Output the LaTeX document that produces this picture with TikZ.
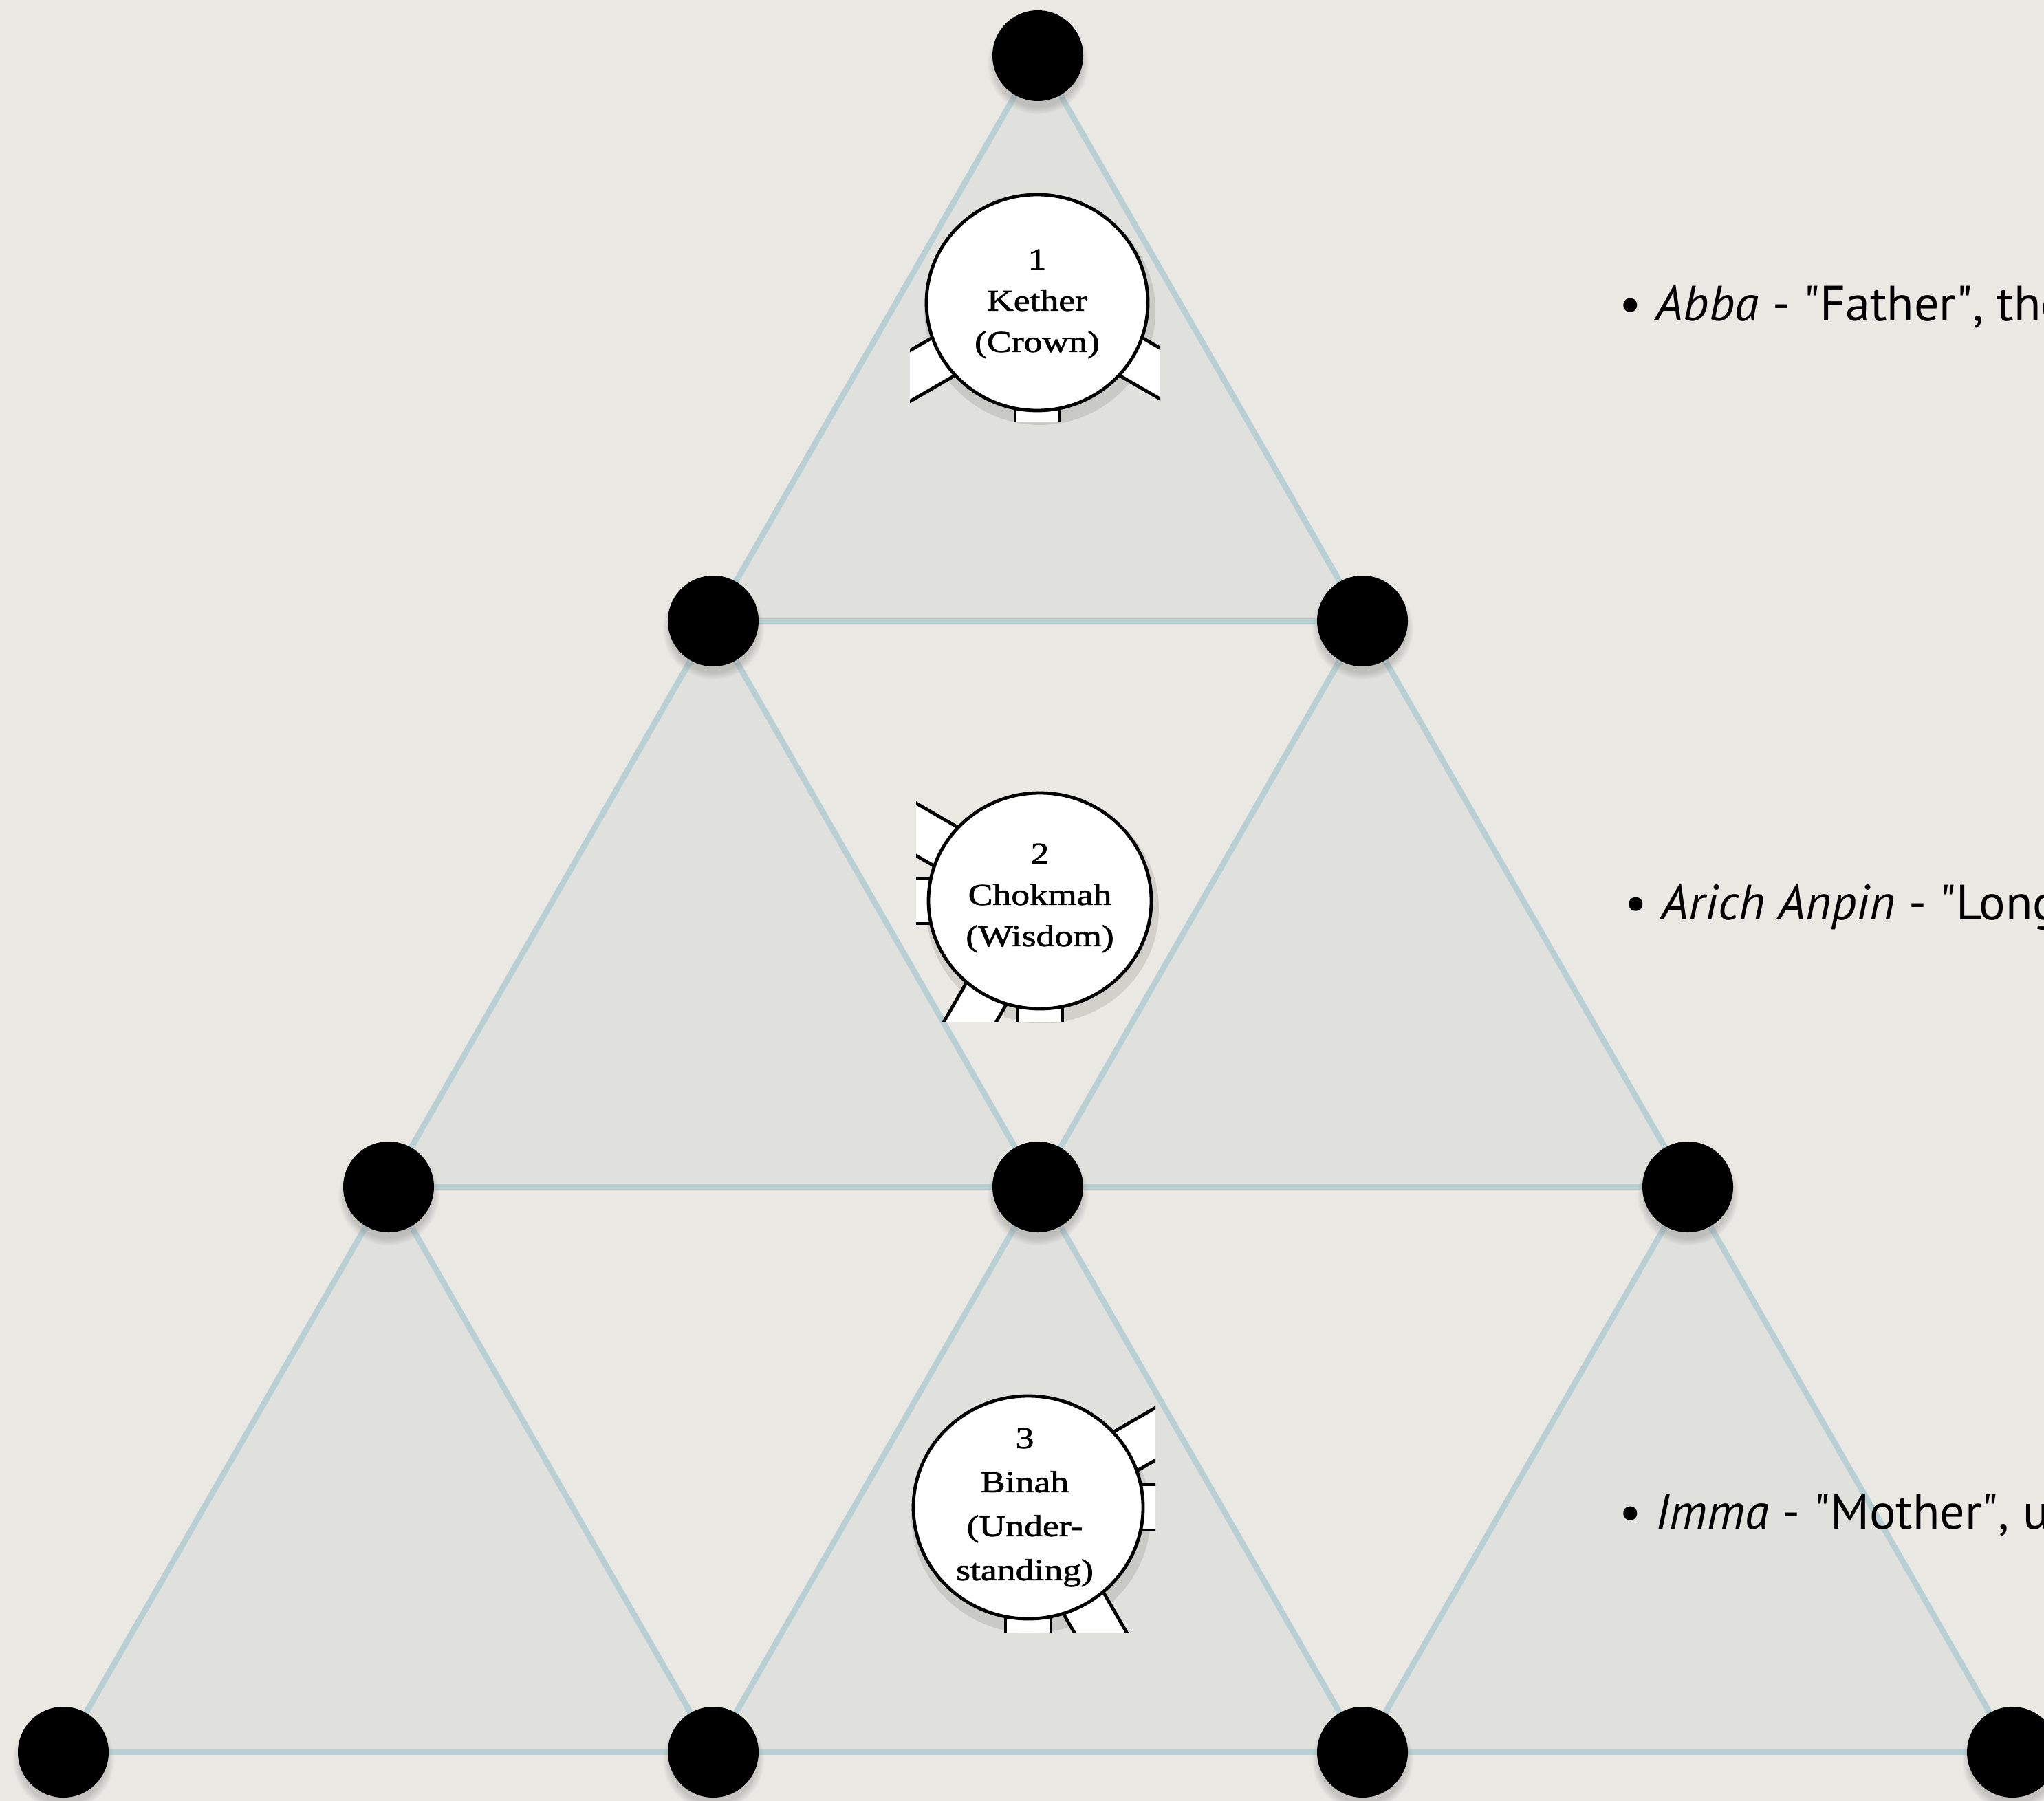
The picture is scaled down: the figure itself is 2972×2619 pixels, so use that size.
\documentclass[tikz,border=0pt]{standalone}
\usepackage{fontspec}
\setmainfont{PT Sans}
\newfontfamily\sefont[FakeStretch=1.22,FakeBold=1.6]{Liberation Serif}
\font\sqfont="PT Sans" at 18pt
\newcommand{\sq}{{\sqfont\char34}}
\usetikzlibrary{shadows,fadings}
\definecolor{bgcol}{RGB}{233,232,227}
\definecolor{trifill}{RGB}{224,224,220}
\definecolor{linecol}{RGB}{184,208,211}
\begin{document}
\begin{tikzpicture}[x=0.25pt,y=-0.25pt,
  dot/.style={circle,fill=black,minimum size=33pt,inner sep=0pt,
    circular drop shadow={shadow xshift=0pt,shadow yshift=-2.5pt,opacity=0.35,shadow scale=1.12}},
  edge/.style={draw=linecol,line width=2.1pt},
  uptri/.style={fill=trifill},
  stub/.style={fill=white,draw=black,line width=1.2pt},
  sef/.style={fill=white,draw=black,line width=1.2pt},
  seftext/.style={font=\sefont\fontsize{11pt}{15pt}\selectfont,align=center,inner sep=0pt},
  btext/.style={anchor=base west,inner sep=0pt,font=\fontsize{18pt}{21pt}\selectfont},
  bdot/.style={anchor=base,inner sep=0pt,font=\fontsize{18pt}{21pt}\selectfont}]
\useasboundingbox (0,0) rectangle (2972,2619);
\clip (0,0) rectangle (2972,2619);
\fill[bgcol] (0,0) rectangle (2972,2619);

% lattice points
\coordinate (t)  at (1509,81);
\coordinate (a1) at (1037,903);
\coordinate (a2) at (1981,903);
\coordinate (b1) at (565,1726);
\coordinate (b2) at (1509,1726);
\coordinate (b3) at (2454,1726);
\coordinate (c1) at (92,2548);
\coordinate (c2) at (1037,2548);
\coordinate (c3) at (1981,2548);
\coordinate (c4) at (2926,2548);

% shaded upward triangles
\fill[uptri] (t) -- (a1) -- (a2) -- cycle;
\fill[uptri] (a1) -- (b1) -- (b2) -- cycle;
\fill[uptri] (a2) -- (b2) -- (b3) -- cycle;
\fill[uptri] (b1) -- (c1) -- (c2) -- cycle;
\fill[uptri] (b2) -- (c2) -- (c3) -- cycle;
\fill[uptri] (b3) -- (c3) -- (c4) -- cycle;

% connectors
\draw[edge] (t) -- (a1);
\draw[edge] (t) -- (a2);
\draw[edge] (a1) -- (a2);
\draw[edge] (a1) -- (b1);
\draw[edge] (a1) -- (b2);
\draw[edge] (a2) -- (b2);
\draw[edge] (a2) -- (b3);
\draw[edge] (b1) -- (b2);
\draw[edge] (b2) -- (b3);
\draw[edge] (b1) -- (c1);
\draw[edge] (b1) -- (c2);
\draw[edge] (b2) -- (c2);
\draw[edge] (b2) -- (c3);
\draw[edge] (b3) -- (c3);
\draw[edge] (b3) -- (c4);
\draw[edge] (c1) -- (c2);
\draw[edge] (c2) -- (c3);
\draw[edge] (c3) -- (c4);

% dots
\foreach \p in {t,a1,a2,b1,b2,b3,c1,c2,c3,c4}
  \node[dot] (n\p) at (\p) {};

% ---- Kether picture
\fill[black,opacity=0.10] (1512,452) ellipse [x radius=168, y radius=166];
\begin{scope}
  \clip (1323,262) rectangle (1687,613);
  \foreach \a in {210,330,270}
    \filldraw[stub,shift={(1508,440)},rotate=\a] (0,-32) -- (320,-32) -- (320,32) -- (0,32) -- cycle;
  \filldraw[sef] (1508,440) ellipse [x radius=161, y radius=157];
\end{scope}
\node[seftext] (kether) at (1508,442) {1\\Kether\\(Crown)};

% ---- Chokmah picture
\fill[black,opacity=0.10] (1516,1322) ellipse [x radius=169, y radius=166];
\begin{scope}
  \clip (1332,1140) rectangle (1695,1485);
  \foreach \a in {150,180,240,270}
    \filldraw[stub,shift={(1512,1310)},rotate=\a] (0,-33) -- (320,-33) -- (320,33) -- (0,33) -- cycle;
  \filldraw[sef] (1512,1310) ellipse [x radius=162, y radius=157];
\end{scope}
\node[seftext] (chokmah) at (1512,1306) {2\\Chokmah\\(Wisdom)};

% ---- Binah picture
\fill[black,opacity=0.10] (1499,2204) ellipse [x radius=174, y radius=171];
\begin{scope}
  \clip (1310,2015) rectangle (1680,2373);
  \foreach \a in {30,0,300,270}
    \filldraw[stub,shift={(1495,2192)},rotate=\a] (0,-33) -- (320,-33) -- (320,33) -- (0,33) -- cycle;
  \filldraw[sef] (1495,2192) ellipse [x radius=167, y radius=162];
\end{scope}
\node[seftext,font=\sefont\fontsize{11pt}{16pt}\selectfont] (binah) at (1490,2192) {3\\Binah\\(Under-\\standing)};

% ---- bullet texts
\node[bdot] (d1) at (2371,467) {•};
\node[btext] (abba) at (2407,467) {\textit{Abba} - \sq Father\sq, the};
\node[bdot] (d2) at (2379,1337) {•};
\node[btext] (arich) at (2415,1337) {\textit{Arich Anpin} - \sq Long};
\node[bdot] (d3) at (2371,2223) {•};
\node[btext] (imma) at (2407,2223) {\textit{Imma} - \sq Mother\sq, u};
\end{tikzpicture}
\end{document}
